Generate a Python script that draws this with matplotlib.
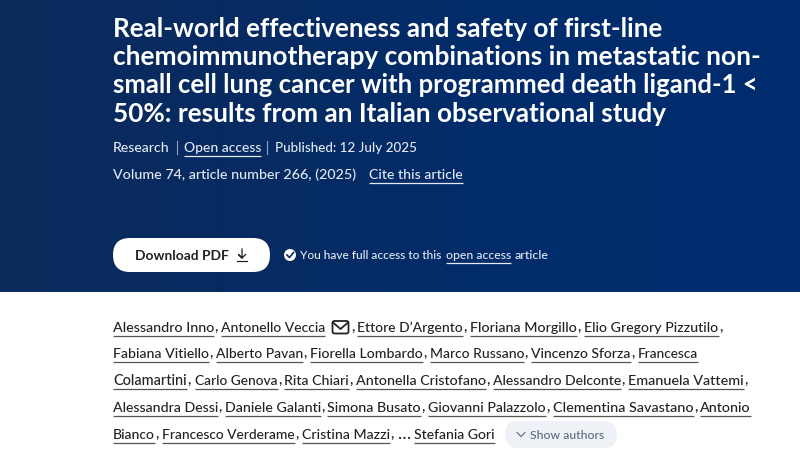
#!/usr/bin/env python3
import numpy as np
from matplotlib import pyplot as plt
from matplotlib.colors import LinearSegmentedColormap
from matplotlib.patches import FancyBboxPatch, Circle

# text of the page
title_lines = [
    'Real-world effectiveness and safety of first-line',
    'chemoimmunotherapy combinations in metastatic non-',
    'small cell lung cancer with programmed death ligand-1 <',
    '50%: results from an Italian observational study',
]
names_rows = [
    ['Alessandro Inno', 'Antonello Veccia', 'Ettore D\u2019Argento', 'Floriana Morgillo', 'Elio Gregory Pizzutilo'],
    ['Fabiana Vitiello', 'Alberto Pavan', 'Fiorella Lombardo', 'Marco Russano', 'Vincenzo Sforza', 'Francesca'],
    ['Colamartini', 'Carlo Genova', 'Rita Chiari', 'Antonella Cristofano', 'Alessandro Delconte', 'Emanuela Vattemi'],
    ['Alessandra Dessi', 'Daniele Galanti', 'Simona Busato', 'Giovanni Palazzolo', 'Clementina Savastano', 'Antonio'],
    ['Bianco', 'Francesco Verderame', 'Cristina Mazzi', 'Stefania Gori'],
]
no_comma = ['Antonello Veccia', 'Francesca', 'Antonio', 'Stefania Gori']

# layout, in pixels of the screenshot
title_base = [37, 65, 93, 122]
title_right = [662, 757, 756, 664]
names_base = [332, 358, 385, 412, 439]
names_span = [
    [(113, 214), (221, 325), (357, 463), (470, 577), (584, 719)],
    [(113, 209), (216, 303), (310, 423), (430, 524), (531, 631), (638, 698)],
    [(113, 187), (195, 278), (284, 349), (356, 486), (493, 621), (628, 744)],
    [(113, 218), (225, 321), (327, 421), (428, 546), (553, 694), (700, 751)],
    [(113, 155), (162, 295), (302, 390), (414, 495)],
]

plt.rcParams['font.family'] = ['Lato', 'DejaVu Sans']
fig = plt.figure(figsize=(8, 4.58), dpi=100)
ax = fig.add_axes([0, 0, 1, 1])
renderer = fig.canvas.get_renderer()

# header band
cmap = LinearSegmentedColormap.from_list('band', ['#0b2a5c', '#062b62', '#012c6c', '#002d6e'])
ax.imshow(np.linspace(0, 1, 200).reshape(1, -1), cmap=cmap, extent=[0, 800, 292, 0],
          aspect='auto', zorder=0)
ax.set_xlim(0, 800)
ax.set_ylim(458, 0)
ax.axis('off')


def fit(s, x0, x1, y, size, color, weight='medium', largest=None):
    # shrink or grow the font so the string fills the span seen in the page
    t = ax.text(x0, y, s, fontsize=size, color=color, weight=weight, va='baseline', ha='left')
    w = t.get_window_extent(renderer).width
    new = size * (x1 - x0) / w
    t.set_fontsize(min(new, largest) if largest else new)
    return t


def underline(x0, x1, y, color, lw=0.9):
    ax.plot([x0, x1], [y, y], color=color, lw=lw, solid_capstyle='butt')


head = '#e4e9f2'
for s, y, r in zip(title_lines, title_base, title_right):
    fit(s, 113, r, y, 17.5, 'white', 'bold')

fit('Research', 113, 170, 152, 10.5, head)
ax.plot([177, 177], [141, 154], color='#8fa3c4', lw=0.8)
fit('Open access', 184, 261, 152, 10.5, head)
underline(184, 261, 155.5, head)
ax.plot([267, 267], [141, 154], color='#8fa3c4', lw=0.8)
fit('Published: 12 July 2025', 275, 417, 152, 10.5, head)
fit('Volume 74, article number 266, (2025)', 113, 356, 179, 10.5, head)
fit('Cite this article', 369, 463, 179, 10.5, head)
underline(369, 463, 182.5, head)

# download button
ax.add_patch(FancyBboxPatch((113, 238), 157, 34, boxstyle='round,pad=0,rounding_size=17',
                            fc='white', ec='none', zorder=2))
fit('Download PDF', 135, 228, 260, 10.5, '#222222', 'bold').set_zorder(3)
ax.plot([242, 242, 238.5, 242, 245.5], [249, 258, 254.5, 258, 254.5], color='#222222', lw=0.9, zorder=3)
ax.plot([237, 247], [261, 261], color='#222222', lw=0.9, zorder=3)

# access note
ax.add_patch(Circle((290, 255), 6, fc='white', ec='none', zorder=2))
ax.plot([287, 289.5, 293.5], [255, 257.5, 252.5], color='#0a2a5e', lw=1.2, zorder=3)
fit('You have full access to this', 300, 442, 259, 9.5, head)
fit('open access', 446, 511, 259, 9.5, head)
underline(446, 511, 262.5, head)
fit('article', 515, 549, 259, 9.5, head)

# authors
ink = '#222222'
for row, spans, y in zip(names_rows, names_span, names_base):
    for name, (x0, x1) in zip(row, spans):
        fit(name, x0, x1, y, 10.5, ink, largest=10.6)
        underline(x0, x1, y + 3.5, '#555555')
        if name not in no_comma:
            ax.text(x1 + 0.5, y, ',', fontsize=10.5, color=ink, weight='medium', va='baseline', ha='left')

# mail icon after the corresponding author
ax.add_patch(FancyBboxPatch((332.5, 321), 16, 12.5, boxstyle='round,pad=0,rounding_size=2',
                            fc='white', ec=ink, lw=1.3, zorder=3))
ax.plot([333, 340.5, 348], [322.5, 329, 322.5], color=ink, lw=1.3, zorder=4)
ax.text(351, 332, ',', fontsize=10.5, color=ink, weight='medium', va='baseline', ha='left')

fit('\u2026', 397, 410, 439, 10.5, ink)

# show authors pill
ax.add_patch(FancyBboxPatch((505, 421), 112, 27, boxstyle='round,pad=0,rounding_size=13.5',
                            fc='#eef1f5', ec='none', zorder=2))
ax.plot([517, 521, 525], [432.5, 436.5, 432.5], color='#5c6b80', lw=0.8, zorder=3)
fit('Show authors', 530, 604, 439, 9.5, '#5c6b80').set_zorder(3)

plt.savefig('out.png', dpi=100)
